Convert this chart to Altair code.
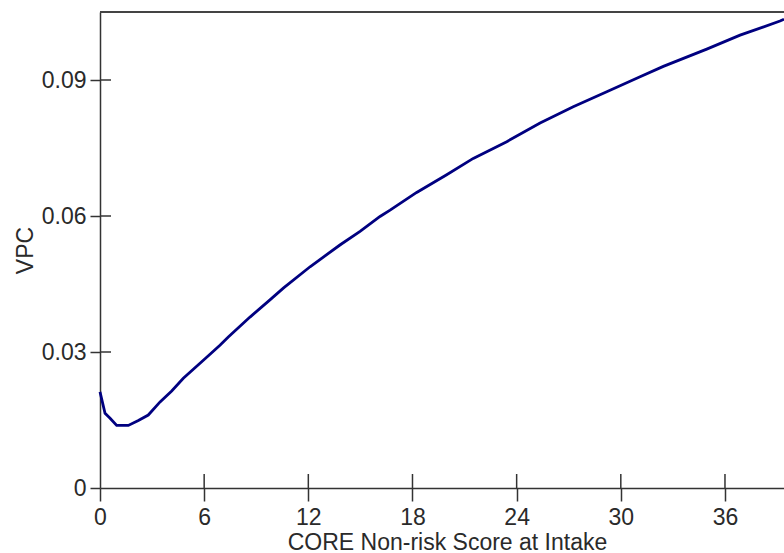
import altair as alt
import pandas as pd

# Curve
score = [0, 0.29, 0.58, 0.96, 1.63, 2.21, 2.78, 3.46, 4.13, 4.80, 6.05, 6.91,
         7.39, 8.64, 9.79, 10.56, 12.10, 13.82, 14.98, 16.13, 16.71, 18.24,
         19.97, 21.50, 23.43, 25.35, 27.26, 29.19, 31.11, 32.45,
         34.95, 36.87, 39.17, 39.4]
vpc = [0.0212, 0.0165, 0.0154, 0.0138, 0.0138, 0.0149, 0.0161, 0.0190, 0.0214,
       0.0242, 0.0285, 0.0315, 0.0333, 0.0377, 0.0415, 0.0441, 0.0488, 0.0536,
       0.0566, 0.0599, 0.0613, 0.0652, 0.0691, 0.0727, 0.0764,
       0.0805, 0.0841, 0.0874, 0.0907, 0.0930, 0.0968, 0.0999, 0.1030, 0.1034]

x_ticks = [0, 6, 12, 18, 24, 30, 36]
y_ticks = [0, 0.03, 0.06, 0.09]
x_max = 39.4
y_max = 0.105

W, H = 684, 476
FONT = "Liberation Sans"
AX = "#333333"

df = pd.DataFrame({"score": score, "vpc": vpc})
xt = pd.DataFrame({"t": x_ticks[1:]})
yt = pd.DataFrame({"t": y_ticks[1:]})

xscale = alt.Scale(domain=[0, x_max], nice=False, zero=False)
yscale = alt.Scale(domain=[0, y_max], nice=False, zero=False)

line = alt.Chart(df).mark_line(color="#000080", strokeWidth=2.8).encode(
    x=alt.X("score:Q", scale=xscale,
            axis=alt.Axis(title="CORE Non-risk Score at Intake", values=x_ticks,
                          format="d", tickSize=13, labelPadding=5,
                          titlePadding=2, titleX=347)),
    y=alt.Y("vpc:Q", scale=yscale,
            axis=alt.Axis(title="VPC", values=y_ticks, tickSize=10,
                          labelPadding=4, titlePadding=4,
                          labelExpr="datum.value == 0 ? '0' : format(datum.value, '.2f')")),
)

xin = alt.Chart(xt).mark_rule(color=AX, strokeWidth=1.5).encode(
    x=alt.X("t:Q", scale=xscale), y=alt.value(H - 14), y2=alt.value(H))
yin = alt.Chart(yt).mark_rule(color=AX, strokeWidth=1.5).encode(
    y=alt.Y("t:Q", scale=yscale), x=alt.value(0), x2=alt.value(11))
top = alt.Chart(pd.DataFrame({"a": [0]})).mark_rule(color="#444444", strokeWidth=2).encode(
    x=alt.datum(0, scale=xscale), x2=alt.datum(x_max), y=alt.datum(y_max, scale=yscale))

chart = alt.layer(xin, yin, top, line).properties(
    width=W, height=H,
    autosize=alt.AutoSizeParams(type="none"),
    padding={"left": 100, "top": 12, "right": 0, "bottom": 65},
    background="white",
).configure_view(stroke=None).configure_axis(
    grid=False, domainColor=AX, domainWidth=1.5, tickColor=AX, tickWidth=1.5,
    labelFont=FONT, titleFont=FONT, labelFontSize=23, titleFontSize=23,
    labelColor="#2a2a2a", titleColor="#2a2a2a", titleFontWeight="normal",
    labelFlush=False, labelOverlap=False,
)

chart.save("out.html", embed_options={"renderer": "svg", "actions": False})
